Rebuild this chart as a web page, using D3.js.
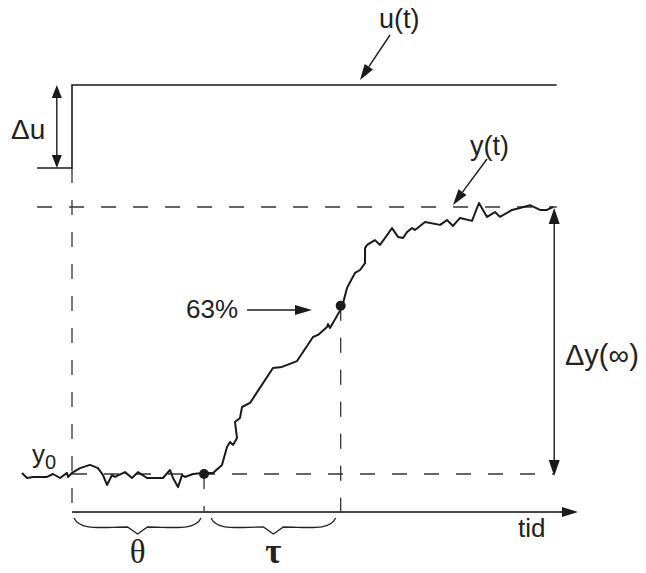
<!DOCTYPE html>
<html>
<head>
<meta charset="utf-8">
<script src="https://cdn.jsdelivr.net/npm/d3@7"></script>
<style>
  html, body { margin: 0; padding: 0; background: #fff; }
  svg text { font-family: "Liberation Sans", Arial, sans-serif; fill: #222; }
  .greek { font-family: "Liberation Serif", "Times New Roman", serif; }
</style>
</head>
<body>
<div id="vis"></div>
<script>
// step response data (time units, normalised response 0..1)
var respT = [-9.88, -8.89, -7.71, -4.94, -3.75, -2.37, -0.99, -0.79, 0, 1.58, 3.56, 5.14, 6.13, 6.92, 7.91, 8.5,
  10.47, 11.86, 13.04, 14.82, 16.01, 17.98, 19.37, 19.96, 20.95, 21.74, 22.33, 23.91, 25.89, 27.87, 29.64,
  30.63, 31.23, 31.82, 32.61, 32.21, 33.2, 33.6, 35.18, 39.72, 41.5, 44.47, 47.63, 48.62, 50.4, 50.59, 50.99,
  53.36, 54.35, 55.93, 56.92, 57.91, 57.91, 58.3, 59.88, 60.87, 61.86, 63.24, 64.43, 65.42, 66.21, 67.19,
  67.79, 69.76, 72.73, 74.11, 75.3, 76.68, 79.05, 80.43, 82.02, 83.6, 84.58, 86.96, 88.54, 90.51, 92.49,
  93.87, 95.06];
var respY = [0.004, -0.015, -0.011, -0.011, 0, -0.015, 0.004, -0.011, 0.004, 0.022, 0.034, 0.022, -0.004, -0.041,
  -0.004, -0.011, 0.007, -0.015, 0.007, -0.015, -0.015, -0.015, 0.015, -0.015, -0.049, -0.004, -0.011, 0,
  0.004, 0.004, 0.034, 0.101, 0.12, 0.109, 0.135, 0.195, 0.21, 0.251, 0.266, 0.397, 0.401, 0.423, 0.513,
  0.521, 0.551, 0.562, 0.547, 0.625, 0.697, 0.753, 0.764, 0.79, 0.846, 0.858, 0.876, 0.858, 0.884, 0.921,
  0.888, 0.884, 0.906, 0.921, 0.914, 0.944, 0.933, 0.951, 0.929, 0.959, 0.948, 1.015, 0.963, 0.981, 0.963,
  0.989, 0.996, 1.007, 0.989, 0.989, 1.0];

// input step u(t)
var uT = [-6.9, 0, 0, 95.8];
var uV = [0, 0, 1, 1];

// characteristic times and levels
var thetaT = 26.1;     // dead time
var tauT = 53.1;       // dead time + time constant
var pct63 = 0.63;
var tStart = -6.9, tEnd = 95.8, tAxisEnd = 100;

var width = 646, height = 573;

var svg = d3.select('#vis').append('svg')
  .attr('width', width)
  .attr('height', height);

var x = d3.scaleLinear().domain([0, 100]).range([72, 578]);
var y = d3.scaleLinear().domain([0, 1]).range([474, 207]);
var u = d3.scaleLinear().domain([0, 1]).range([168, 85]);

var axisY = 512;
var dash = '15,17';

// filled arrow head, tip at (x2,y2)
function arrowHead(x1, y1, x2, y2, len, half) {
  var a = Math.atan2(y2 - y1, x2 - x1);
  var bx = x2 - len * Math.cos(a), by = y2 - len * Math.sin(a);
  var px = -Math.sin(a) * half, py = Math.cos(a) * half;
  svg.append('path')
    .attr('d', 'M' + x2 + ',' + y2 + 'L' + (bx + px) + ',' + (by + py) + 'L' + (bx - px) + ',' + (by - py) + 'Z')
    .attr('fill', '#1a1a1a');
  return [bx, by];
}

function arrow(x1, y1, x2, y2, len, half, both) {
  var b = arrowHead(x1, y1, x2, y2, len, half);
  var s = [x1, y1];
  if (both) s = arrowHead(x2, y2, x1, y1, len, half);
  svg.append('line')
    .attr('x1', s[0]).attr('y1', s[1])
    .attr('x2', b[0]).attr('y2', b[1])
    .attr('stroke', '#1a1a1a').attr('stroke-width', 1.4);
}

function dashed(x1, y1, x2, y2) {
  svg.append('line')
    .attr('x1', x1).attr('y1', y1).attr('x2', x2).attr('y2', y2)
    .attr('stroke', '#333').attr('stroke-width', 1.3)
    .attr('stroke-dasharray', dash);
}

// dashed guide lines
dashed(x(tStart), y(1), x(tEnd), y(1));
dashed(x(0), y(0), x(tEnd - 0.6), y(0));
dashed(x(0), u(0), x(0), axisY);
dashed(x(thetaT), y(0), x(thetaT), axisY);
dashed(x(tauT), y(pct63), x(tauT), axisY);

// time axis
svg.append('line')
  .attr('x1', x(0)).attr('y1', axisY)
  .attr('x2', x(tAxisEnd) - 14).attr('y2', axisY)
  .attr('stroke', '#444').attr('stroke-width', 2);
arrowHead(x(0), axisY, x(tAxisEnd), axisY, 16, 5);
svg.append('text').attr('x', 518).attr('y', 537)
  .style('font-size', '26px').text('tid');

// u(t) step
var uLine = d3.line().x(function(d) { return x(d[0]); }).y(function(d) { return u(d[1]); });
svg.append('path')
  .datum(d3.zip(uT, uV))
  .attr('d', uLine)
  .attr('fill', 'none')
  .attr('stroke', '#1a1a1a')
  .attr('stroke-width', 1.6);

// response y(t)
var yLine = d3.line().x(function(d) { return x(d[0]); }).y(function(d) { return y(d[1]); });
svg.append('path')
  .datum(d3.zip(respT, respY))
  .attr('d', yLine)
  .attr('fill', 'none')
  .attr('stroke', '#1a1a1a')
  .attr('stroke-width', 2)
  .attr('stroke-linejoin', 'round');

// dots at theta and 63%
svg.append('circle').attr('cx', x(thetaT)).attr('cy', y(0)).attr('r', 5).attr('fill', '#1a1a1a');
svg.append('circle').attr('cx', x(tauT)).attr('cy', y(pct63)).attr('r', 5).attr('fill', '#1a1a1a');

// delta u
arrow(x(-3), u(0), x(-3), u(1), 13, 5, true);
svg.append('text').attr('x', 11).attr('y', 139)
  .style('font-size', '28px').text('\u0394u');

// delta y(inf)
arrow(x(95.3), y(0) + 2, x(95.3), y(1) + 1, 16, 5.5, true);
svg.append('text').attr('x', 565).attr('y', 365)
  .style('font-size', '29px').text('\u0394y(\u221E)');

// labels with pointers
svg.append('text').attr('x', 379).attr('y', 28).style('font-size', '27px').text('u(t)');
arrow(390, 35, 360, 80, 16, 5);

svg.append('text').attr('x', 470).attr('y', 155).style('font-size', '27px').text('y(t)');
arrow(487, 159, 453, 205, 16, 5);

svg.append('text').attr('x', 186).attr('y', 318).style('font-size', '26px').text('63%');
arrow(247, 310, 312, 310, 17, 5);

// y0
var y0 = svg.append('text').attr('x', 32).attr('y', 463).style('font-size', '26px');
y0.append('tspan').text('y');
y0.append('tspan').attr('dy', 6).style('font-size', '20px').text('0');

// braces
function brace(x1, x2, top) {
  var m = (x1 + x2) / 2;
  var p = 'M' + x1 + ',' + top +
    'C' + (x1 + 6) + ',' + (top + 13) + ' ' + (m - 35) + ',' + (top + 9) + ' ' + (m - 10) + ',' + (top + 9) +
    'L' + m + ',' + (top + 16) + 'L' + (m + 10) + ',' + (top + 9) +
    'C' + (m + 35) + ',' + (top + 9) + ' ' + (x2 - 6) + ',' + (top + 13) + ' ' + x2 + ',' + top;
  svg.append('path').attr('d', p).attr('fill', 'none').attr('stroke', '#222').attr('stroke-width', 1.3);
  return m;
}
var mTheta = brace(x(0) + 2, x(thetaT) - 3, 518);
var mTau = brace(x(thetaT) + 7, x(tauT) - 5, 518);

svg.append('text').attr('class', 'greek').attr('x', mTheta).attr('y', 563)
  .attr('text-anchor', 'middle').style('font-size', '33px').text('\u03B8');
svg.append('text').attr('class', 'greek').attr('x', mTau).attr('y', 563)
  .attr('text-anchor', 'middle').style('font-size', '35px').style('font-weight', 'bold').text('\u03C4');
</script>
</body>
</html>
